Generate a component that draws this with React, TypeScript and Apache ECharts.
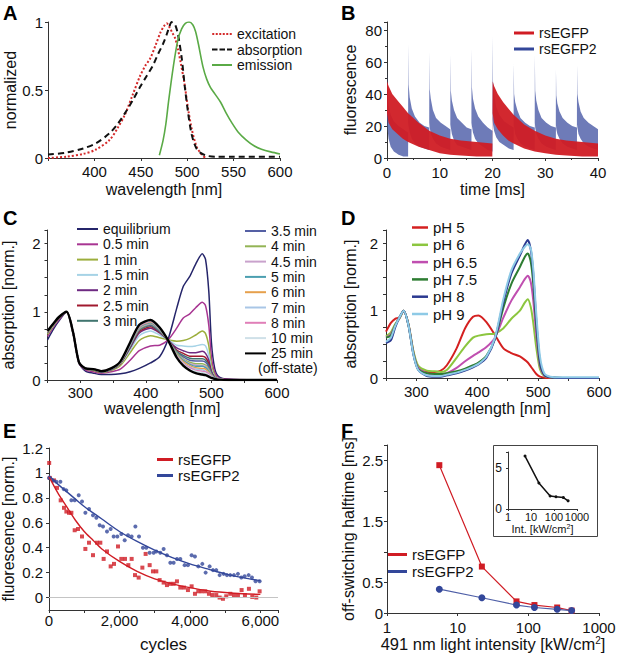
import React, { useEffect, useRef } from 'react';
import * as echarts from 'echarts';

const FONT = '"Liberation Sans", Arial, Helvetica, sans-serif';
const RED = '#d01c24';
const BLUE = '#33479a';

// ---------- Panel A ----------
const aExcWl = [350, 370, 388, 401, 416, 425, 433, 441, 449, 455, 460, 466, 471, 475, 478, 481, 484, 487, 490, 493, 497, 501, 505, 510, 514, 517, 520];
const aExcVal = [0.0, 0.01, 0.03, 0.06, 0.13, 0.22, 0.32, 0.46, 0.6, 0.68, 0.73, 0.83, 0.92, 0.97, 0.99, 0.96, 0.92, 0.88, 0.8, 0.7, 0.55, 0.36, 0.21, 0.085, 0.04, 0.015, 0.0];
const aAbsWl = [350, 370, 388, 402, 416, 425, 433, 441, 449, 456, 463, 469, 474, 478, 481, 483, 485, 487, 490, 494, 497.5, 501, 504, 506.5, 510, 514, 521, 530, 550, 600];
const aAbsVal = [0.025, 0.04, 0.07, 0.11, 0.18, 0.25, 0.33, 0.42, 0.52, 0.6, 0.68, 0.77, 0.84, 0.91, 0.97, 1.0, 0.99, 0.98, 0.91, 0.74, 0.52, 0.33, 0.2, 0.13, 0.07, 0.04, 0.017, 0.01, 0.01, 0.01];
const aEmWl = [470, 474, 477, 480, 485, 490, 494, 498, 502, 506, 509, 512, 517, 521, 525, 530, 536, 542, 548, 555, 564, 572, 580, 590, 600];
const aEmVal = [0.02, 0.13, 0.25, 0.42, 0.67, 0.87, 0.95, 0.99, 1.0, 0.98, 0.93, 0.84, 0.67, 0.58, 0.52, 0.47, 0.41, 0.33, 0.26, 0.19, 0.13, 0.09, 0.065, 0.045, 0.03];

// ---------- Panel B (noise envelopes: lower / upper edge of each trace) ----------
const bRedT = [0, 0.3, 1, 2, 3, 4, 6, 8, 10, 12, 14, 17, 19.97, 20.03, 20.3, 21, 22, 23, 24, 26, 28, 30, 32, 34, 37, 40];
const bRedLow = [28, 22, 18, 15, 12, 10, 7, 5, 3, 2, 1.5, 1, 1, 28, 22, 18, 14, 11, 9, 6, 4, 3, 2, 1.5, 1, 1];
const bRedHigh = [48, 45, 40, 36, 32, 28, 22, 17, 14, 12, 11, 10, 9, 48, 45, 40, 35, 31, 27, 21, 17, 14, 12, 11, 10, 9];
const bBlueT = [
  0, 0.1, 0.3, 0.7, 1.3, 2.2, 3.1, 3.97,
  4, 4.03, 4.1, 4.3, 4.7, 5.3, 6.2, 7.1, 7.97,
  8, 8.03, 8.1, 8.3, 8.7, 9.3, 10.2, 11.1, 11.97,
  12, 12.03, 12.1, 12.3, 12.7, 13.3, 14.2, 15.1, 15.97,
  16, 16.03, 16.1, 16.3, 16.7, 17.3, 18.2, 19.1, 19.97,
  20, 20.03, 20.1, 20.3, 20.7, 21.3, 22.2, 23.1, 23.97,
  24, 24.03, 24.1, 24.3, 24.7, 25.3, 26.2, 27.1, 27.97,
  28, 28.03, 28.1, 28.3, 28.7, 29.3, 30.2, 31.1, 31.97,
  32, 32.03, 32.1, 32.3, 32.7, 33.3, 34.2, 35.1, 35.97,
  36, 36.03, 36.1, 36.3, 36.7, 37.3, 38.2, 39.1, 40,
];
const bBlueLow = [
  26, 18, 12, 7, 4, 2, 1, 1,
  1, 22, 20, 16, 12, 9, 7, 6, 5,
  5, 22, 19, 15, 12, 9, 7, 6, 5,
  5, 21, 19, 15, 11, 8, 7, 6, 5,
  5, 22, 20, 16, 12, 9, 7, 5, 4,
  4, 24, 21, 17, 13, 10, 8, 6, 5,
  5, 21, 19, 15, 12, 9, 7, 6, 5,
  5, 22, 19, 15, 12, 9, 7, 6, 5,
  5, 21, 18, 15, 12, 9, 7, 6, 5,
  5, 21, 19, 15, 12, 9, 7, 6, 5,
];
const bBlueHigh = [
  56, 40, 33, 27, 23, 20, 18, 16,
  16, 71, 46, 38, 31, 26, 22, 20, 19,
  19, 66, 43, 37, 30, 25, 22, 20, 18,
  18, 64, 42, 36, 30, 25, 22, 19, 18,
  18, 68, 44, 37, 31, 26, 22, 19, 17,
  17, 76, 48, 40, 32, 27, 23, 21, 19,
  19, 59, 40, 35, 30, 25, 22, 20, 19,
  19, 64, 42, 36, 30, 25, 22, 20, 19,
  19, 55, 39, 34, 29, 25, 22, 20, 19,
  19, 58, 40, 35, 29, 25, 22, 20, 18,
];

// ---------- Panel C ----------
const cWl = [250, 260, 267, 279, 289, 298, 308, 320, 332, 347, 361, 376, 390, 407, 421, 434, 447, 457, 467, 476, 486, 491, 496, 500, 505, 511, 526, 600];
const cNames = ['equilibrium', '0.5 min', '1 min', '1.5 min', '2 min', '2.5 min', '3 min', '3.5 min', '4 min', '4.5 min', '5 min', '6 min', '7 min', '8 min', '10 min', '25 min'];
const cEq = [0.59, 0.76, 0.86, 1.0, 0.68, 0.25, 0.13, 0.10, 0.08, 0.08, 0.09, 0.12, 0.17, 0.25, 0.34, 0.60, 1.05, 1.37, 1.52, 1.70, 1.85, 1.77, 1.30, 0.55, 0.17, 0.05, 0.01, 0];
const c05 = [0.64, 0.79, 0.88, 1.0, 0.69, 0.25, 0.15, 0.12, 0.10, 0.12, 0.16, 0.29, 0.43, 0.50, 0.51, 0.59, 0.76, 0.91, 0.97, 1.06, 1.14, 1.09, 0.80, 0.34, 0.11, 0.03, 0.01, 0];
const c1 = [0.67, 0.81, 0.90, 1.0, 0.69, 0.26, 0.16, 0.14, 0.11, 0.14, 0.21, 0.40, 0.58, 0.65, 0.62, 0.59, 0.57, 0.58, 0.61, 0.66, 0.72, 0.68, 0.50, 0.22, 0.07, 0.02, 0, 0];
const c15 = [0.69, 0.82, 0.91, 1.0, 0.70, 0.26, 0.16, 0.15, 0.12, 0.15, 0.23, 0.44, 0.65, 0.72, 0.66, 0.59, 0.51, 0.50, 0.49, 0.50, 0.52, 0.50, 0.36, 0.16, 0.05, 0.02, 0, 0];
const c2 = [0.70, 0.83, 0.91, 1.0, 0.70, 0.26, 0.16, 0.15, 0.12, 0.15, 0.24, 0.47, 0.69, 0.76, 0.69, 0.58, 0.47, 0.43, 0.40, 0.40, 0.42, 0.39, 0.29, 0.13, 0.04, 0.01, 0, 0];
const c25 = [0.70, 0.83, 0.91, 1.0, 0.70, 0.26, 0.16, 0.15, 0.12, 0.16, 0.24, 0.48, 0.71, 0.78, 0.70, 0.58, 0.44, 0.39, 0.35, 0.35, 0.35, 0.33, 0.24, 0.11, 0.04, 0.01, 0, 0];
const c3 = [0.70, 0.83, 0.91, 1.0, 0.70, 0.26, 0.16, 0.15, 0.12, 0.16, 0.25, 0.49, 0.73, 0.80, 0.71, 0.58, 0.42, 0.36, 0.32, 0.31, 0.31, 0.29, 0.21, 0.10, 0.03, 0.01, 0, 0];
const c35 = [0.71, 0.83, 0.91, 1.0, 0.70, 0.26, 0.17, 0.15, 0.12, 0.16, 0.25, 0.50, 0.74, 0.81, 0.72, 0.58, 0.41, 0.34, 0.29, 0.28, 0.28, 0.26, 0.19, 0.09, 0.03, 0.01, 0, 0];
const c4 = [0.71, 0.83, 0.91, 1.0, 0.70, 0.26, 0.17, 0.15, 0.13, 0.16, 0.25, 0.51, 0.75, 0.82, 0.73, 0.58, 0.40, 0.31, 0.26, 0.24, 0.24, 0.22, 0.16, 0.08, 0.03, 0.01, 0, 0];
const c45 = [0.71, 0.83, 0.92, 1.0, 0.70, 0.26, 0.17, 0.16, 0.13, 0.16, 0.26, 0.52, 0.76, 0.83, 0.74, 0.58, 0.38, 0.30, 0.24, 0.22, 0.21, 0.20, 0.14, 0.07, 0.03, 0.01, 0, 0];
const c5 = [0.71, 0.83, 0.92, 1.0, 0.70, 0.26, 0.17, 0.16, 0.13, 0.16, 0.26, 0.52, 0.77, 0.84, 0.74, 0.58, 0.38, 0.29, 0.23, 0.20, 0.20, 0.18, 0.13, 0.06, 0.03, 0.01, 0, 0];
const c6 = [0.71, 0.84, 0.92, 1.0, 0.70, 0.26, 0.17, 0.16, 0.13, 0.17, 0.26, 0.53, 0.78, 0.85, 0.75, 0.58, 0.37, 0.27, 0.21, 0.18, 0.17, 0.16, 0.11, 0.06, 0.02, 0.01, 0, 0];
const c7 = [0.72, 0.84, 0.92, 1.0, 0.70, 0.26, 0.17, 0.16, 0.13, 0.17, 0.26, 0.53, 0.79, 0.86, 0.75, 0.58, 0.36, 0.25, 0.19, 0.16, 0.15, 0.13, 0.10, 0.05, 0.02, 0.01, 0, 0];
const c8 = [0.72, 0.84, 0.92, 1.0, 0.70, 0.26, 0.17, 0.16, 0.13, 0.17, 0.27, 0.54, 0.79, 0.86, 0.76, 0.58, 0.35, 0.24, 0.18, 0.14, 0.13, 0.12, 0.09, 0.04, 0.02, 0.01, 0, 0];
const c10 = [0.72, 0.84, 0.92, 1.0, 0.70, 0.26, 0.17, 0.16, 0.13, 0.17, 0.27, 0.54, 0.80, 0.87, 0.76, 0.58, 0.34, 0.23, 0.16, 0.13, 0.11, 0.10, 0.07, 0.04, 0.02, 0.01, 0, 0];
const c25m = [0.72, 0.84, 0.92, 1.0, 0.70, 0.26, 0.17, 0.16, 0.13, 0.17, 0.27, 0.55, 0.81, 0.88, 0.77, 0.58, 0.33, 0.21, 0.14, 0.10, 0.08, 0.07, 0.05, 0.03, 0.015, 0.005, 0, 0];
const cValues = [cEq, c05, c1, c15, c2, c25, c3, c35, c4, c45, c5, c6, c7, c8, c10, c25m];
const cColors = ['#25256a', '#a83592', '#9cae3c', '#a6d3e6', '#6e2a82', '#a0192e', '#41756f', '#5560a4', '#93b455', '#c9a2cc', '#4b9fb0', '#e6a04c', '#a9c6e6', '#e07fb8', '#cfe0e8', '#000000'];

// ---------- Panel D ----------
const dWl = [250, 258, 265, 272, 279, 287, 295, 303, 317, 330, 340, 350, 366, 380, 393, 402, 415, 429, 443, 456, 470, 478, 483, 488, 492, 497, 503, 510, 520, 540, 600];
const dNames = ['pH 5', 'pH 6', 'pH 6.5', 'pH 7.5', 'pH 8', 'pH 9'];
const dPH5 = [0.69, 0.82, 0.88, 0.90, 1.0, 0.79, 0.39, 0.14, 0.09, 0.09, 0.11, 0.19, 0.44, 0.74, 0.91, 0.93, 0.83, 0.64, 0.44, 0.37, 0.32, 0.27, 0.23, 0.17, 0.12, 0.06, 0.02, 0.005, 0, 0, 0];
const dPH6 = [0.62, 0.68, 0.80, 0.88, 1.0, 0.80, 0.40, 0.18, 0.11, 0.10, 0.09, 0.12, 0.30, 0.47, 0.60, 0.63, 0.65, 0.66, 0.74, 0.88, 1.0, 1.12, 1.17, 1.05, 0.82, 0.45, 0.13, 0.03, 0.01, 0, 0];
const dPH65 = [0.60, 0.65, 0.78, 0.89, 1.0, 0.79, 0.37, 0.15, 0.07, 0.05, 0.05, 0.07, 0.15, 0.25, 0.33, 0.38, 0.46, 0.60, 0.90, 1.15, 1.35, 1.47, 1.52, 1.42, 1.15, 0.64, 0.18, 0.04, 0.01, 0, 0];
const dPH75 = [0.60, 0.63, 0.78, 0.90, 1.0, 0.78, 0.36, 0.13, 0.07, 0.06, 0.06, 0.07, 0.10, 0.14, 0.19, 0.23, 0.33, 0.58, 1.05, 1.40, 1.65, 1.80, 1.85, 1.72, 1.40, 0.78, 0.22, 0.05, 0.01, 0, 0];
const dPH8 = [0.52, 0.56, 0.75, 0.90, 1.0, 0.78, 0.35, 0.12, 0.03, 0.02, 0.02, 0.04, 0.07, 0.11, 0.16, 0.20, 0.30, 0.58, 1.13, 1.55, 1.82, 1.98, 2.05, 1.90, 1.55, 0.85, 0.25, 0.05, 0.01, 0, 0];
const dPH9 = [0.54, 0.60, 0.77, 0.90, 1.0, 0.78, 0.35, 0.12, 0.04, 0.03, 0.03, 0.05, 0.08, 0.12, 0.17, 0.21, 0.32, 0.60, 1.18, 1.60, 1.85, 1.95, 1.99, 1.92, 1.62, 0.95, 0.32, 0.07, 0.02, 0.01, 0.01];
const dValues = [dPH5, dPH6, dPH65, dPH75, dPH8, dPH9];
const dColors = ['#d42020', '#8cc63f', '#c04fb0', '#2e7d32', '#2b3990', '#8ecae6'];

// ---------- Panel E ----------
const eRedX = [5, 25, 142, 227, 332, 426, 493, 568, 635, 729, 824, 937, 1032, 1136, 1249, 1363, 1457, 1551, 1646, 1750, 1845, 1958, 2053, 2157, 2252, 2346, 2441, 2545, 2650, 2743, 2857, 2951, 3046, 3140, 3254, 3348, 3443, 3537, 3632, 3727, 3830, 3944, 4048, 4143, 4238, 4332, 4436, 4540, 4635, 4748, 4843, 4937, 5031, 5145, 5250, 5363, 5467, 5562, 5675, 5770, 5884, 5978];
const eRedY = [1.08, 0.96, 0.94, 0.88, 0.78, 0.72, 0.69, 0.68, 0.68, 0.54, 0.55, 0.49, 0.39, 0.44, 0.34, 0.44, 0.44, 0.31, 0.37, 0.25, 0.27, 0.41, 0.31, 0.31, 0.26, 0.31, 0.18, 0.16, 0.24, 0.35, 0.26, 0.21, 0.21, 0.14, 0.12, 0.10, 0.11, 0.11, 0.13, 0.08, 0.08, 0.06, 0.09, 0.03, 0.05, 0.05, 0.05, 0.03, 0.02, 0.02, 0.00, -0.01, 0.01, 0.03, 0.02, 0.02, 0.06, 0.02, 0.07, 0.005, 0.00, 0.05];
const eBlueX = [0, 114, 209, 323, 417, 493, 635, 729, 843, 937, 1032, 1136, 1249, 1344, 1438, 1533, 1646, 1750, 1835, 1940, 2053, 2148, 2243, 2346, 2451, 2554, 2667, 2762, 2857, 2970, 3046, 3160, 3254, 3348, 3443, 3537, 3632, 3727, 3850, 3944, 4048, 4143, 4238, 4351, 4446, 4559, 4653, 4748, 4843, 4956, 5050, 5145, 5250, 5363, 5458, 5552, 5666, 5760, 5864, 5978];
const eBlueY = [0.96, 0.94, 0.93, 0.93, 0.87, 0.86, 0.78, 0.78, 0.82, 0.77, 0.68, 0.71, 0.66, 0.64, 0.58, 0.57, 0.53, 0.55, 0.49, 0.49, 0.51, 0.46, 0.50, 0.49, 0.57, 0.49, 0.40, 0.40, 0.36, 0.36, 0.37, 0.36, 0.39, 0.34, 0.28, 0.28, 0.31, 0.31, 0.26, 0.26, 0.34, 0.33, 0.25, 0.27, 0.20, 0.25, 0.22, 0.22, 0.18, 0.19, 0.18, 0.18, 0.18, 0.19, 0.16, 0.17, 0.18, 0.16, 0.13, 0.13];
const eFitX = [0, 250, 500, 750, 1000, 1250, 1500, 2000, 2500, 3000, 3500, 4000, 4500, 5000, 5500, 6000];
const eRedFit = [0.97, 0.84, 0.73, 0.62, 0.53, 0.46, 0.39, 0.29, 0.21, 0.15, 0.11, 0.08, 0.055, 0.04, 0.03, 0.025];
const eBlueFit = [0.98, 0.91, 0.85, 0.79, 0.73, 0.68, 0.63, 0.53, 0.45, 0.38, 0.32, 0.27, 0.23, 0.19, 0.16, 0.135];

// ---------- Panel F ----------
const fIntensity = [5.5, 22, 68, 122, 256, 410];
const fRed = [2.42, 0.76, 0.19, 0.13, 0.09, 0.04];
const fBlue = [0.39, 0.25, 0.13, 0.09, 0.06, 0.04];
const fRatio = [6.5, 3.2, 1.6, 1.5, 1.4, 1.0];

const zip = (xs: number[], ys: number[]) => xs.map((x, i) => [x, ys[i]]);

const DOTTED = 'path://M0 0h2v2h-2zM3.5 0h2v2h-2zM7 0h2v2h-2zM10.5 0h2v2h-2zM14 0h2v2h-2zM17.5 0h2v2h-2z';
const DASHED = 'path://M0 0h5.5v2h-5.5zM7.5 0h5.5v2h-5.5zM15 0h5v2h-5z';

function ax(grid: number, o: any) {
  const base: any = {
    gridIndex: grid,
    type: 'value',
    axisLine: { show: true, onZero: false, lineStyle: { color: '#333', width: 1 } },
    axisTick: { show: true, inside: false, length: 3, lineStyle: { color: '#333' } },
    axisLabel: { color: '#111', fontSize: 15, fontFamily: FONT, margin: 6 },
    splitLine: { show: false },
    nameLocation: 'middle',
    nameTextStyle: { color: '#111', fontSize: 16, fontFamily: FONT },
  };
  return {
    ...base,
    ...o,
    axisLine: { ...base.axisLine, ...(o.axisLine || {}) },
    axisTick: { ...base.axisTick, ...(o.axisTick || {}) },
    axisLabel: { ...base.axisLabel, ...(o.axisLabel || {}) },
    nameTextStyle: { ...base.nameTextStyle, ...(o.nameTextStyle || {}) },
  };
}

const intOnly = (v: number) => (Math.abs(v - Math.round(v)) < 1e-6 ? String(Math.round(v)) : '');

function legend(o: any) {
  return {
    orient: 'vertical',
    padding: 0,
    selectedMode: false,
    itemWidth: 20,
    itemHeight: 2,
    textStyle: { fontSize: 14, fontFamily: FONT, color: '#111' },
    ...o,
  };
}
const item = (name: string, color: string, icon = 'rect') => ({ name, icon, itemStyle: { color, opacity: 1, borderWidth: 0 } });

function band(name: string, t: number[], lo: number[], hi: number[], fill: string, opacity: number) {
  return {
    type: 'custom', name, xAxisIndex: 1, yAxisIndex: 1, clip: true,
    data: t.map((x, i) => [x, lo[i], hi[i]]),
    encode: { x: 0, y: [1, 2] },
    itemStyle: { color: fill },
    renderItem: (params: any, api: any) => {
      if (params.dataIndex !== 0) return null;
      const pts: number[][] = [];
      for (let i = 0; i < t.length; i++) pts.push(api.coord([t[i], lo[i]]));
      for (let i = t.length - 1; i >= 0; i--) pts.push(api.coord([t[i], hi[i]]));
      return { type: 'polygon', shape: { points: pts }, style: { fill, opacity } };
    },
  };
}

export default function App() {
  const ref = useRef<HTMLDivElement>(null);
  useEffect(() => {
    if (!ref.current) return;
    const chart = echarts.init(ref.current, undefined, { renderer: 'svg' });

    const grids = [
      { left: 48, top: 22, width: 232, height: 136 },
      { left: 387, top: 22, width: 211, height: 136 },
      { left: 47.5, top: 230, width: 229.5, height: 150 },
      { left: 386, top: 230, width: 213, height: 148 },
      { left: 49, top: 448, width: 229, height: 162 },
      { left: 387, top: 445, width: 212, height: 168 },
      { left: 508, top: 452, width: 69, height: 57 },
    ].map((g) => ({ ...g, containLabel: false, outerBoundsMode: 'none' }));

    const xAxis = [
      ax(0, { min: 350, max: 600, interval: 50, name: 'wavelength [nm]', nameGap: 23, axisLabel: { formatter: (v: number) => (v === 350 ? '' : String(v)) } }),
      ax(1, { min: 0, max: 40, interval: 10, minorTick: { show: true, splitNumber: 2, length: 2 }, name: 'time [ms]', nameGap: 23, axisLabel: { margin: 7 } }),
      ax(2, { min: 250, max: 600, interval: 50, name: 'wavelength [nm]', nameGap: 20, axisLabel: { margin: 5, formatter: (v: number) => (v % 100 === 0 ? String(v) : '') } }),
      ax(3, { min: 250, max: 600, interval: 50, name: 'wavelength [nm]', nameGap: 22, axisLabel: { margin: 6, formatter: (v: number) => (v % 100 === 0 ? String(v) : '') } }),
      ax(4, { min: 0, max: 6500, interval: 1000, name: 'cycles', nameGap: 26, nameTextStyle: { fontSize: 17 }, axisLabel: { margin: 3, formatter: (v: number) => (v % 2000 === 0 ? (v === 0 ? '0' : `${v / 1000},000`) : '') } }),
      ax(5, { type: 'log', logBase: 10, min: 1, max: 1000, name: '491 nm light intensity [kW/cm{sup|2}]', nameGap: 22, nameTextStyle: { fontSize: 16.5, lineHeight: 17, rich: { sup: { fontSize: 10, verticalAlign: 'top', lineHeight: 17 } } }, axisLabel: { margin: 7, formatter: (v: number) => String(Math.round(v)) } }),
      ax(6, { type: 'log', logBase: 10, min: 1, max: 1000, name: 'Int. [kW/cm{sup|2}]', nameGap: 13, nameTextStyle: { fontSize: 11, lineHeight: 13, rich: { sup: { fontSize: 7, verticalAlign: 'top', lineHeight: 13 } } }, axisTick: { length: 2 }, axisLabel: { fontSize: 11, margin: 2, formatter: (v: number) => String(Math.round(v)) } }),
    ];
    const yAxis = [
      ax(0, { min: 0, max: 1, interval: 0.5, name: 'normalized', nameGap: 29, axisLabel: { margin: 5 } }),
      ax(1, { min: 0, max: 85, interval: 20, minorTick: { show: true, splitNumber: 2, length: 2 }, name: 'fluorescence', nameGap: 29, axisLabel: { margin: 5, formatter: (v: number) => (v % 20 === 0 ? String(v) : '') } }),
      ax(2, { min: 0, max: 2.2, interval: 0.25, name: 'absorption [norm.]', nameGap: 31, axisLabel: { margin: 7, formatter: intOnly } }),
      ax(3, { min: 0, max: 2.2, interval: 0.25, name: 'absorption [norm.]', nameGap: 28, axisLabel: { margin: 8, formatter: intOnly } }),
      ax(4, { min: -0.1, max: 1.2, interval: 0.1, name: 'fluorescence [norm.]', nameGap: 33, axisTick: { customValues: [0, 0.2, 0.4, 0.6, 0.8, 1, 1.2] }, axisLabel: { margin: 6, formatter: (v: number) => { const k = Math.round(v * 10); return k < 0 || k % 2 ? '' : String(k / 10); } } }),
      ax(5, { min: 0, max: 2.75, interval: 0.5, name: 'off-switching halftime [ms]', nameGap: 31, axisLabel: { margin: 4, formatter: (v: number) => (v === 1 || v === 2 || v > 2.6 ? '' : String(v)) } }),
      ax(6, { min: 0, max: 7, interval: 5, axisTick: { length: 2 }, axisLabel: { fontSize: 12, margin: 6, formatter: (v: number) => (v % 5 === 0 ? String(v) : '') } }),
    ];

    const series: any[] = [];
    // A
    series.push(
      { type: 'line', name: 'excitation', xAxisIndex: 0, yAxisIndex: 0, data: zip(aExcWl, aExcVal), symbol: 'none', smooth: 0.3, lineStyle: { color: '#d42a2a', width: 2, type: 'dotted' }, itemStyle: { color: '#d42a2a' } },
      { type: 'line', name: 'absorption', xAxisIndex: 0, yAxisIndex: 0, data: zip(aAbsWl, aAbsVal), symbol: 'none', smooth: 0.3, lineStyle: { color: '#111', width: 2, type: [6, 4] }, itemStyle: { color: '#111' } },
      { type: 'line', name: 'emission', xAxisIndex: 0, yAxisIndex: 0, data: zip(aEmWl, aEmVal), symbol: 'none', smooth: 0.3, lineStyle: { color: '#5aaa46', width: 1.6 }, itemStyle: { color: '#5aaa46' } },
    );
    // B: blue trace first, red trace drawn on top
    series.push(
      band('rsEGFP2', bBlueT, bBlueLow, bBlueHigh, '#4a5aa6', 0.8),
      band('rsEGFP', bRedT, bRedLow, bRedHigh, RED, 0.95),
    );
    // C
    cNames.forEach((n, i) => {
      series.push({ type: 'line', name: n, xAxisIndex: 2, yAxisIndex: 2, data: zip(cWl, cValues[i]), symbol: 'none', smooth: 0.25, color: cColors[i], lineStyle: { color: cColors[i], width: i === 15 ? 2.4 : 1.5 } });
    });
    // D
    dNames.forEach((n, i) => {
      series.push({ type: 'line', name: n, xAxisIndex: 3, yAxisIndex: 3, data: zip(dWl, dValues[i]), symbol: 'none', smooth: 0.25, color: dColors[i], lineStyle: { color: dColors[i], width: 2 } });
    });
    // E
    series.push(
      { type: 'line', name: 'rsEGFP', xAxisIndex: 4, yAxisIndex: 4, data: zip(eFitX, eRedFit), symbol: 'none', smooth: 0.3, color: RED, lineStyle: { color: RED, width: 1.4 },
        markLine: { silent: true, symbol: ['none', 'none'], label: { show: false }, lineStyle: { color: '#c4c4c4', width: 1, type: 'solid' }, data: [{ yAxis: 0 }] } },
      { type: 'line', name: 'rsEGFP2', xAxisIndex: 4, yAxisIndex: 4, data: zip(eFitX, eBlueFit), symbol: 'none', smooth: 0.3, color: BLUE, lineStyle: { color: BLUE, width: 1.4 } },
      { type: 'scatter', name: 'rsEGFP', xAxisIndex: 4, yAxisIndex: 4, data: zip(eRedX, eRedY), symbol: 'rect', symbolSize: 4, itemStyle: { color: RED } },
      { type: 'scatter', name: 'rsEGFP2', xAxisIndex: 4, yAxisIndex: 4, data: zip(eBlueX, eBlueY), symbol: 'circle', symbolSize: 4, itemStyle: { color: BLUE } },
    );
    // F
    series.push(
      { type: 'line', name: 'rsEGFP', xAxisIndex: 5, yAxisIndex: 5, data: zip(fIntensity, fRed), symbol: 'rect', symbolSize: 6, showSymbol: true, color: RED, lineStyle: { color: RED, width: 1.2 }, itemStyle: { color: RED } },
      { type: 'line', name: 'rsEGFP2', xAxisIndex: 5, yAxisIndex: 5, data: zip(fIntensity, fBlue), symbol: 'circle', symbolSize: 7, showSymbol: true, color: BLUE, lineStyle: { color: '#5060a8', width: 1.2 }, itemStyle: { color: BLUE } },
      { type: 'line', name: 'ratio', xAxisIndex: 6, yAxisIndex: 6, data: zip(fIntensity, fRatio), symbol: 'circle', symbolSize: 3, showSymbol: true, color: '#111', lineStyle: { color: '#111', width: 1.5 }, itemStyle: { color: '#111' } },
    );

    const pair = () => [item('rsEGFP', RED), item('rsEGFP2', BLUE)];
    const legends = [
      legend({ left: 212, top: 27, itemGap: 1.5, itemWidth: 20, data: [item('excitation', '#d42a2a', DOTTED), item('absorption', '#111', DASHED), item('emission', '#5aaa46')] }),
      legend({ left: 514, top: 26, itemGap: 2, itemWidth: 20, itemHeight: 3, data: pair() }),
      legend({ left: 77, top: 222, itemGap: 1.3, itemWidth: 21, data: cNames.slice(0, 7).map((n, i) => item(n, cColors[i])) }),
      legend({ left: 245, top: 224, itemGap: 1.3, itemWidth: 21, data: cNames.slice(7).map((n, i) => item(n, cColors[i + 7])) }),
      legend({ left: 412, top: 220, itemGap: 2.3, itemWidth: 16, itemHeight: 2.5, textStyle: { fontSize: 15, fontFamily: FONT, color: '#111' }, data: dNames.map((n, i) => item(n, dColors[i])) }),
      legend({ left: 157, top: 452, itemGap: 1, itemWidth: 16, itemHeight: 3, textStyle: { fontSize: 15, fontFamily: FONT, color: '#111' }, data: pair() }),
      legend({ left: 388, top: 547, itemGap: 2, itemWidth: 19, itemHeight: 3, textStyle: { fontSize: 15, fontFamily: FONT, color: '#111' }, data: pair() }),
    ];

    const letter = (t: string, x: number, y: number) => ({
      type: 'text', x, y, z: 10,
      style: { text: t, fontSize: 20, fontWeight: 'bold', fontFamily: FONT, fill: '#000', textVerticalAlign: 'top' },
    });

    chart.setOption({
      animation: false,
      textStyle: { fontFamily: FONT },
      grid: grids,
      xAxis,
      yAxis,
      series,
      legend: legends,
      graphic: [
        letter('A', 3, 3),
        letter('B', 341, 3),
        letter('C', 3, 208),
        letter('D', 341, 208),
        letter('E', 3, 421),
        letter('F', 341, 421),
        { type: 'text', x: 258, y: 361, style: { text: '(off-state)', fontSize: 14, fontFamily: FONT, fill: '#111', textVerticalAlign: 'top' } },
        { type: 'rect', z: 0, shape: { x: 493.5, y: 445.5, width: 104, height: 91 }, style: { fill: 'none', stroke: '#444', lineWidth: 1 } },
      ],
    });
    return () => chart.dispose();
  }, []);
  return <div ref={ref} style={{ position: 'absolute', left: 0, top: 0, width: 617, height: 655 }} />;
}
